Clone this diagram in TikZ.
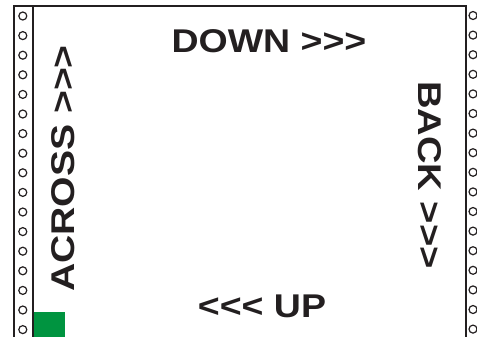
\documentclass[tikz,border=0pt]{standalone}
\usepackage{fontspec}
\setmainfont{Liberation Sans}
\definecolor{tabgreen}{RGB}{0,148,64}
\definecolor{inkblack}{RGB}{35,31,32}
\newcommand{\widetxt}[2][1.14]{\scalebox{#1}[1]{\bfseries\fontsize{33}{33}\selectfont #2}}
\newcommand{\thrgt}{>\kern0pt>\kern0pt>}
\newcommand{\thrlt}{<\kern0pt<\kern0pt<}

\begin{document}
\begin{tikzpicture}[x=1bp,y=-1bp,line width=2bp,draw=inkblack,
  lbl/.style={inner sep=0pt,text=inkblack},
  hole/.style={draw=inkblack,circle,line width=1.2bp,minimum size=8bp,inner sep=0pt}]
\useasboundingbox (0,0) rectangle (477,336);
\clip (0,0) rectangle (477,336);
% sheet edge and tractor strips
\draw (13.5,340) -- (13.5,6) -- (465.5,6) -- (465.5,340);
\draw (33,6) -- (33,340);
\foreach \k in {0,...,16}{
  \node[hole] (lh\k) at (22.8,16+19.6*\k) {};
  \node[hole] (rh\k) at (473,15.5+19.6*\k) {};
}
\fill[tabgreen] (34,312) rectangle (65,340);

\node[lbl] (down) at (269,41.5) {\widetxt{DOWN \thrgt}};
\node[lbl] (up) at (262,306) {\widetxt{\thrlt{} UP}};
\node[lbl,rotate=90] (across) at (63,168.5) {\widetxt[1.19]{ACROSS \thrgt}};
\node[lbl,rotate=-90] (back) at (430,175) {\widetxt[1.16]{BACK \thrgt}};
\end{tikzpicture}
\end{document}
